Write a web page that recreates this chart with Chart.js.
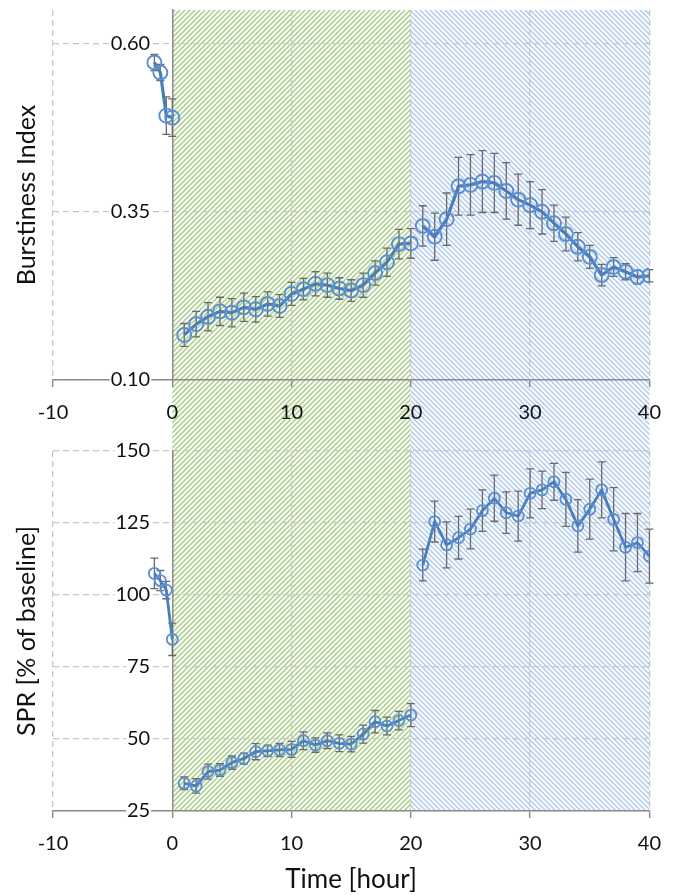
<!DOCTYPE html>
<html>
<head>
<meta charset="utf-8">
<script src="https://cdn.jsdelivr.net/npm/chart.js@4/dist/chart.umd.min.js"></script>
<style>
  html, body { margin: 0; padding: 0; background: #ffffff; }
  #wrap { position: relative; width: 675px; height: 895px; }
  #cTop { position: absolute; left: 0; top: 0; }
  #cBot { position: absolute; left: 0; top: 430px; }
</style>
</head>
<body>
<div id="wrap">
  <canvas id="cTop" width="675" height="430"></canvas>
  <canvas id="cBot" width="675" height="465"></canvas>
</div>
<script>
// ---- time points (hours) ----
const baselineHours = [-1.5, -1, -0.5, 0];
const phase1Hours = [1, 2, 3, 4, 5, 6, 7, 8, 9, 10, 11, 12, 13, 14, 15, 16, 17, 18, 19, 20];
const phase2Hours = [21, 22, 23, 24, 25, 26, 27, 28, 29, 30, 31, 32, 33, 34, 35, 36, 37, 38, 39, 40];

// ---- Burstiness Index (mean, error) ----
const burstBaseline = [0.572, 0.557, 0.493, 0.490];
const burstBaselineErr = [0.012, 0.012, 0.028, 0.028];
const burstPhase1 = [0.167, 0.183, 0.194, 0.202, 0.200, 0.208, 0.205, 0.213, 0.210, 0.228,
                     0.235, 0.243, 0.241, 0.236, 0.233, 0.241, 0.259, 0.275, 0.302, 0.303];
const burstPhase1Err = [0.017, 0.019, 0.021, 0.021, 0.021, 0.021, 0.019, 0.018, 0.017, 0.017,
                        0.016, 0.018, 0.018, 0.016, 0.016, 0.018, 0.018, 0.021, 0.022, 0.022];
const burstPhase2 = [0.329, 0.313, 0.339, 0.388, 0.390, 0.395, 0.393, 0.381, 0.368, 0.360,
                     0.350, 0.333, 0.317, 0.298, 0.283, 0.256, 0.268, 0.261, 0.253, 0.255];
const burstPhase2Err = [0.030, 0.035, 0.039, 0.043, 0.045, 0.046, 0.044, 0.042, 0.038, 0.035,
                        0.033, 0.027, 0.025, 0.021, 0.017, 0.016, 0.014, 0.012, 0.010, 0.009];

// ---- SPR, % of baseline (mean, error) ----
const sprBaseline = [107.5, 105.0, 101.7, 84.6];
const sprBaselineErr = [5.3, 3.5, 3.0, 5.6];
const sprPhase1 = [34.6, 33.7, 38.7, 39.2, 41.8, 43.2, 45.6, 45.9, 46.2, 46.4,
                   49.4, 47.9, 49.4, 48.5, 48.2, 51.7, 56.0, 54.5, 56.4, 58.3];
const sprPhase1Err = [2.2, 2.5, 2.6, 2.2, 2.3, 1.9, 2.8, 2.0, 2.3, 2.8,
                      3.1, 2.5, 2.7, 2.9, 2.7, 3.1, 3.9, 3.1, 3.2, 4.0];
const sprPhase2 = [110.4, 125.5, 117.4, 119.9, 122.9, 129.3, 133.6, 128.6, 127.4, 135.3,
                   136.5, 139.3, 133.2, 124.0, 129.8, 136.5, 126.3, 116.6, 118.2, 113.5];
const sprPhase2Err = [5.5, 7.1, 8.0, 7.4, 6.9, 7.2, 8.0, 7.2, 8.7, 8.5,
                      6.5, 6.4, 9.4, 9.1, 10.4, 9.7, 11.0, 11.7, 10.1, 9.4];

// ---- axis ticks ----
const hourTicks = [-10, 0, 10, 20, 30, 40];
const burstTicks = [0.10, 0.35, 0.60];
const sprTicks = [25, 50, 75, 100, 125, 150];

// ---- shading periods (hours) ----
const period1 = [0, 20];
const period2 = [20, 40];

// the value axis crosses at hour 0; its labels end a little to the left of it
const AXIS_CROSS = 0;
const LABEL_ANCHOR = -1.85;

const FONT = 'Lato, "Open Sans", sans-serif';
const LINE_BLUE = '#4a7ebb';
const POINT_BLUE = '#5b8fd0';

function hatchPattern(ctx, color, upward, offsetTop) {
  const s = 5;
  const tile = document.createElement('canvas');
  tile.width = s; tile.height = s;
  const t = tile.getContext('2d');
  t.strokeStyle = color;
  t.lineWidth = 1.6;
  t.beginPath();
  if (upward) {
    t.moveTo(-1, s + 1); t.lineTo(s + 1, -1);
    t.moveTo(-1, 1); t.lineTo(1, -1);
    t.moveTo(s - 1, s + 1); t.lineTo(s + 1, s - 1);
  } else {
    t.moveTo(-1, -1); t.lineTo(s + 1, s + 1);
    t.moveTo(s - 1, -1); t.lineTo(s + 1, 1);
    t.moveTo(-1, s - 1); t.lineTo(1, s + 1);
  }
  t.stroke();
  const p = ctx.createPattern(tile, 'repeat');
  p.setTransform(new DOMMatrix([1, 0, 0, 1, 0, -offsetTop]));
  return p;
}

// shaded periods behind the grid
const shadingPlugin = {
  id: 'shading',
  beforeDraw(chart, args, opts) {
    const {ctx, chartArea, scales: {x}} = chart;
    const top = opts.extendUp ? 0 : chartArea.top;
    const bottom = opts.extendDown ? chart.height : chartArea.bottom;
    ctx.save();
    const x0 = x.getPixelForValue(period1[0]);
    const x1 = x.getPixelForValue(period1[1]);
    const x2 = x.getPixelForValue(period2[1]);
    ctx.fillStyle = hatchPattern(ctx, '#b0d395', true, opts.offsetTop);
    ctx.fillRect(x0, top, x1 - x0, bottom - top);
    ctx.fillStyle = hatchPattern(ctx, '#b9cfee', false, opts.offsetTop);
    ctx.fillRect(x1, top, x2 - x1, bottom - top);
    ctx.restore();
  }
};

// vertical error bars with caps
const errorBarPlugin = {
  id: 'errorBars',
  beforeDatasetsDraw(chart) {
    const {ctx, scales: {x, y}} = chart;
    ctx.save();
    ctx.strokeStyle = '#6a6a6a';
    ctx.lineWidth = 1.3;
    chart.data.datasets.forEach(ds => {
      ds.data.forEach((pt, i) => {
        const e = ds.errors[i];
        const px = x.getPixelForValue(pt.x);
        const yHi = y.getPixelForValue(pt.y + e);
        const yLo = y.getPixelForValue(pt.y - e);
        ctx.beginPath();
        ctx.moveTo(px, yHi); ctx.lineTo(px, yLo);
        ctx.moveTo(px - 4, yHi); ctx.lineTo(px + 4, yHi);
        ctx.moveTo(px - 4, yLo); ctx.lineTo(px + 4, yLo);
        ctx.stroke();
      });
    });
    ctx.restore();
  }
};

// rotated y axis title placed at the far left
const yTitlePlugin = {
  id: 'yTitle',
  afterDraw(chart, args, opts) {
    const {ctx, chartArea} = chart;
    ctx.save();
    ctx.translate(opts.x, (chartArea.top + chartArea.bottom) / 2);
    ctx.rotate(-Math.PI / 2);
    ctx.font = opts.font;
    ctx.fillStyle = '#111';
    ctx.textAlign = 'center';
    ctx.textBaseline = 'middle';
    ctx.fillText(opts.text, 0, 0);
    ctx.restore();
  }
};

function series(hours, vals, errs, radius, lineWidth, pointWidth) {
  return {
    data: hours.map((h, i) => ({x: h, y: vals[i]})),
    errors: errs,
    borderColor: LINE_BLUE,
    borderWidth: lineWidth,
    pointRadius: radius,
    pointBorderWidth: pointWidth,
    pointBorderColor: POINT_BLUE,
    pointBackgroundColor: 'rgba(0,0,0,0)',
    showLine: true,
    tension: 0,
    fill: false
  };
}

const noPad = s => { s.paddingTop = 0; s.paddingBottom = 0; };

function makeChart(canvas, cfg) {
  return new Chart(canvas, {
    type: 'line',
    data: {datasets: cfg.datasets},
    plugins: [shadingPlugin, errorBarPlugin, yTitlePlugin],
    options: {
      responsive: false,
      animation: false,
      events: [],
      layout: {padding: {left: 53, right: 24, top: cfg.padTop, bottom: 0}},
      plugins: {
        legend: {display: false},
        tooltip: {enabled: false},
        shading: {offsetTop: cfg.offsetTop, extendUp: cfg.extendUp, extendDown: cfg.extendDown},
        yTitle: {text: cfg.yTitle, x: 27, font: '25px ' + FONT}
      },
      scales: {
        x: {
          type: 'linear',
          min: -10, max: 40,
          afterBuildTicks: s => { s.ticks = hourTicks.map(v => ({value: v})); },
          afterFit: s => { s.height = cfg.xHeight; },
          ticks: {
            font: {family: FONT, size: 20},
            color: '#111',
            padding: cfg.xTickPad,
            maxRotation: 0,
            callback: v => String(v)
          },
          grid: {
            color: '#c6c6c6', lineWidth: 1.3,
            drawTicks: true, tickLength: 7,
            tickColor: '#8c8c8c', tickWidth: 1.5, tickBorderDash: []
          },
          border: {display: true, color: '#8c8c8c', width: 1.5, dash: [6, 4]},
          title: cfg.xTitle ? {
            display: true, text: cfg.xTitle, color: '#111',
            font: {family: FONT, size: 26}, padding: {top: 0, bottom: 0}
          } : {display: false}
        },
        // value axis: line and horizontal grid, crossing at hour 0
        y: {
          type: 'linear',
          position: {x: AXIS_CROSS},
          min: cfg.yMin, max: cfg.yMax,
          afterBuildTicks: s => { s.ticks = cfg.yTicks.map(v => ({value: v})); },
          afterFit: noPad,
          ticks: {display: false},
          grid: {color: '#c6c6c6', lineWidth: 1.3, drawTicks: false},
          border: {display: true, color: '#8c8c8c', width: 1.5, dash: [6, 4]}
        },
        // same value range, carries the tick labels
        yLabels: {
          type: 'linear',
          position: {x: LABEL_ANCHOR},
          min: cfg.yMin, max: cfg.yMax,
          afterBuildTicks: s => { s.ticks = cfg.yTicks.map(v => ({value: v})); },
          afterFit: noPad,
          ticks: {
            font: {family: FONT, size: 20},
            color: '#111',
            padding: 0,
            showLabelBackdrop: true,
            backdropColor: '#ffffff',
            backdropPadding: {x: 1, y: 0},
            callback: cfg.yFormat
          },
          grid: {display: false, drawTicks: false},
          border: {display: false}
        }
      }
    }
  });
}

makeChart(document.getElementById('cTop'), {
  datasets: [
    series(baselineHours, burstBaseline, burstBaselineErr, 7, 3.2, 1.9),
    series(phase1Hours, burstPhase1, burstPhase1Err, 7, 3.2, 1.9),
    series(phase2Hours, burstPhase2, burstPhase2Err, 7, 3.2, 1.9)
  ],
  yMin: 0.10, yMax: 0.65, yTicks: burstTicks,
  yFormat: v => v.toFixed(2),
  yTitle: 'Burstiness Index',
  padTop: 10, xHeight: 50, xTickPad: 14,
  offsetTop: 0, extendUp: false, extendDown: true
});

makeChart(document.getElementById('cBot'), {
  datasets: [
    series(baselineHours, sprBaseline, sprBaselineErr, 5.5, 2.8, 1.8),
    series(phase1Hours, sprPhase1, sprPhase1Err, 5.5, 2.8, 1.8),
    series(phase2Hours, sprPhase2, sprPhase2Err, 5.5, 2.8, 1.8)
  ],
  yMin: 25, yMax: 150, yTicks: sprTicks,
  yFormat: v => String(v),
  yTitle: 'SPR [% of baseline]',
  padTop: 21, xHeight: 84, xTickPad: 14,
  xTitle: 'Time [hour]',
  offsetTop: 430, extendUp: true, extendDown: false
});
</script>
</body>
</html>
